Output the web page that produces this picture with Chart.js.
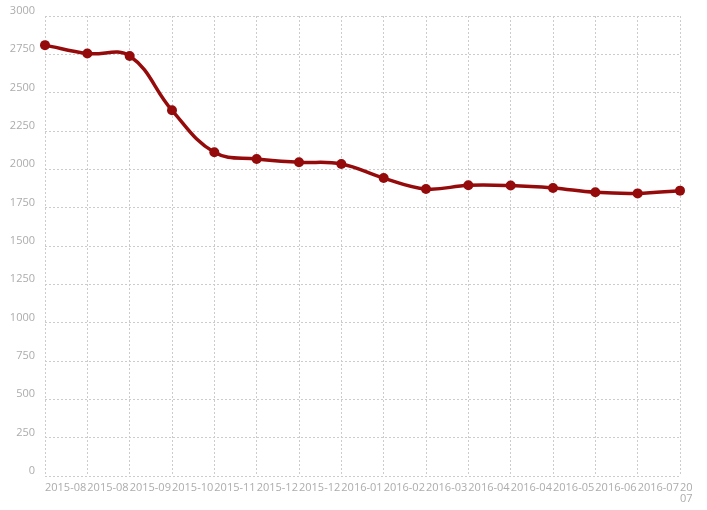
<!DOCTYPE html>
<html>
<head>
<meta charset="utf-8">
<script src="https://cdn.jsdelivr.net/npm/chart.js@4/dist/chart.umd.min.js"></script>
<style>
  html, body { margin: 0; padding: 0; background: #fff; }
  #wrap { position: relative; width: 692px; height: 510px; }
</style>
</head>
<body>
<div id="wrap"><canvas id="c"></canvas></div>
<script>
const categories = ["2015-08","2015-08","2015-09","2015-10","2015-11","2015-12","2015-12","2016-01","2016-02","2016-03","2016-04","2016-04","2016-05","2016-06","2016-07",["2016-","07"]];
const values = [2810, 2755, 2739, 2385, 2111, 2067, 2046, 2035, 1943, 1872, 1896, 1894, 1878, 1850, 1843, 1861];
const yTicks = [0, 250, 500, 750, 1000, 1250, 1500, 1750, 2000, 2250, 2500, 2750, 3000];

const lineColor = '#950b0b';
const gridColor = '#cccccc';
const labelColor = '#acacac';

new Chart(document.getElementById('c'), {
  type: 'line',
  data: {
    labels: categories,
    datasets: [{
      data: values,
      borderColor: lineColor,
      backgroundColor: lineColor,
      borderWidth: 3.5,
      pointRadius: 5,
      pointBorderWidth: 0,
      pointBackgroundColor: lineColor,
      tension: 0.4,
      fill: false,
      clip: false
    }]
  },
  options: {
    responsive: true,
    maintainAspectRatio: false,
    animation: false,
    layout: { padding: { top: 16, right: 12, bottom: 0, left: 0 } },
    plugins: { legend: { display: false }, tooltip: { enabled: false } },
    scales: {
      x: {
        offset: false,
        grid: { color: gridColor, drawTicks: false, lineWidth: 1 },
        border: { display: false, dash: [2, 2] },
        ticks: {
          autoSkip: false,
          maxRotation: 0,
          minRotation: 0,
          align: 'start',
          padding: 6,
          color: labelColor,
          font: { family: 'Open Sans', size: 11, lineHeight: 1.05 }
        },
        afterFit: s => { s.paddingRight = 0; s.paddingLeft = 0; s.height = 34; }
      },
      y: {
        min: 0,
        max: 3000,
        afterBuildTicks: s => { s.ticks = yTicks.map(v => ({ value: v })); },
        grid: { color: gridColor, drawTicks: false, lineWidth: 1 },
        border: { display: false, dash: [2, 2] },
        ticks: {
          padding: 10,
          labelOffset: -5,
          color: labelColor,
          font: { family: 'Open Sans', size: 11 },
          callback: v => String(v)
        },
        afterFit: s => { s.width = 45; s.paddingTop = 0; s.paddingBottom = 0; }
      }
    }
  }
});
</script>
</body>
</html>
